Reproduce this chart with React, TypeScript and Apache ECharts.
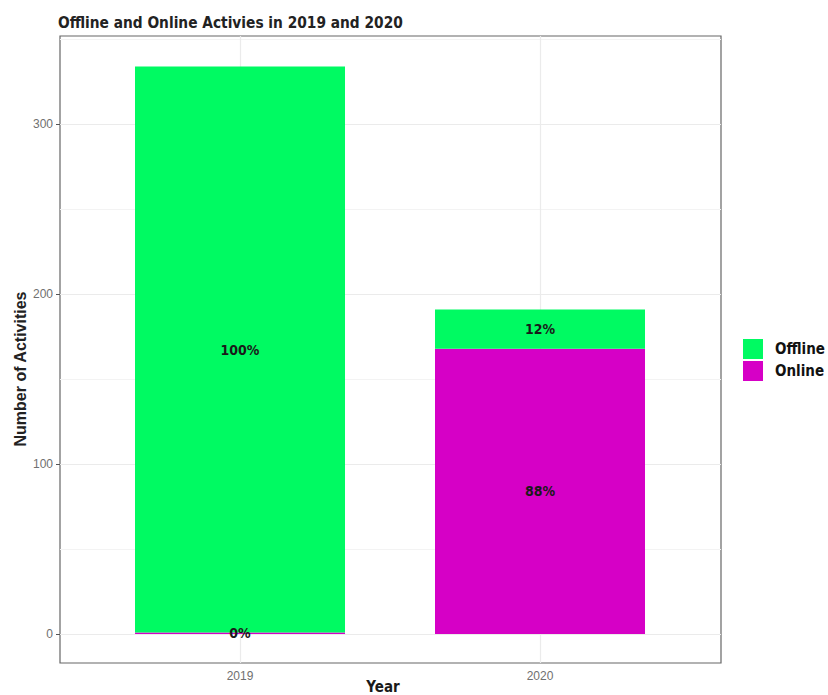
import React, { useEffect, useRef } from "react";
import * as echarts from "echarts";

const categories = ["2019", "2020"];
const onlineValues = [1, 168];
const offlineValues = [333, 23];
const yTickValues = [0, 100, 200, 300];
const yMinorValues = [50, 150, 250, 350];

const COND = "'DejaVu Sans Condensed', 'DejaVu Sans', sans-serif";
const SANS = "'Liberation Sans', Arial, sans-serif";

export default function App() {
  const ref = useRef<HTMLDivElement>(null);
  useEffect(() => {
    if (!ref.current) return;
    const chart = echarts.init(ref.current, undefined, { renderer: "svg" });
    const totals = onlineValues.map((v, i) => v + offlineValues[i]);
    const pct = (p: any) => Math.round((p.value / totals[p.dataIndex]) * 100) + "%";
    const labelStyle = {
      show: true,
      position: "inside",
      formatter: pct,
      fontFamily: COND,
      fontWeight: "bold",
      fontSize: 14,
      color: "#1a1a1a",
    };
    const yRange = { min: -17, max: 352 };
    chart.setOption({
      animation: false,
      backgroundColor: "#ffffff",
      grid: [
        {
          left: 60,
          top: 36,
          right: 107,
          bottom: 32,
          show: true,
          borderColor: "#666666",
          borderWidth: 1.2,
          backgroundColor: "transparent",
        },
        { left: 90, top: 36, right: 138, bottom: 32 },
      ],
      xAxis: [
        { type: "value", gridIndex: 0, min: 0, max: 1, show: false },
        {
          type: "category",
          gridIndex: 1,
          data: categories,
          axisLine: { show: false },
          splitLine: { show: false },
          axisTick: {
            show: true,
            alignWithLabel: true,
            length: 4,
            lineStyle: { color: "#555555" },
          },
          axisLabel: {
            color: "#707070",
            fontFamily: SANS,
            fontSize: 12,
            margin: 7,
          },
        },
      ],
      yAxis: [
        {
          type: "value",
          gridIndex: 0,
          ...yRange,
          axisLine: { show: false },
          splitLine: { show: false },
          axisTick: {
            show: true,
            customValues: yTickValues,
            length: 4,
            lineStyle: { color: "#555555" },
          },
          axisLabel: {
            customValues: yTickValues,
            color: "#707070",
            fontFamily: SANS,
            fontSize: 12,
            margin: 7,
          },
        },
        { type: "value", gridIndex: 1, ...yRange, show: false },
      ],
      legend: {
        data: ["Offline", "Online"],
        orient: "vertical",
        left: 743,
        top: 339,
        padding: 0,
        itemGap: 2,
        itemWidth: 20,
        itemHeight: 20,
        icon: "rect",
        textStyle: {
          fontFamily: COND,
          fontWeight: "bold",
          fontSize: 15,
          color: "#111111",
          padding: [0, 0, 0, 7],
        },
      },
      graphic: [
        {
          type: "text",
          left: 58,
          top: 15,
          style: {
            text: "Offline and Online Activies in 2019 and 2020",
            font: `bold 15.3px ${COND}`,
            fill: "#222222",
          },
        },
        {
          type: "text",
          x: 383,
          y: 679,
          style: {
            text: "Year",
            font: `bold 15px ${COND}`,
            fill: "#1a1a1a",
            textAlign: "center",
            textVerticalAlign: "top",
          },
        },
        {
          type: "text",
          x: 20,
          y: 369,
          rotation: Math.PI / 2,
          style: {
            text: "Number of Activities",
            font: `bold 16px ${SANS}`,
            fill: "#222222",
            textAlign: "center",
            textVerticalAlign: "middle",
          },
        },
      ],
      series: [
        {
          name: "hgrid",
          type: "line",
          xAxisIndex: 0,
          yAxisIndex: 0,
          data: [],
          markLine: {
            silent: true,
            z: 1,
            symbol: "none",
            label: { show: false },
            data: [
              ...yMinorValues.map((v) => ({ yAxis: v, lineStyle: { color: "#f3f3f3", width: 1, type: "solid" } })),
              ...yTickValues.map((v) => ({ yAxis: v, lineStyle: { color: "#ebebeb", width: 1.2, type: "solid" } })),
            ],
          },
        },
        {
          name: "vgrid",
          type: "line",
          xAxisIndex: 1,
          yAxisIndex: 1,
          data: [],
          markLine: {
            silent: true,
            z: 1,
            symbol: "none",
            label: { show: false },
            data: categories.map((c) => ({ xAxis: c, lineStyle: { color: "#ebebeb", width: 1.2, type: "solid" } })),
          },
        },
        {
          name: "Online",
          type: "bar",
          stack: "total",
          xAxisIndex: 1,
          yAxisIndex: 1,
          z: 3,
          barWidth: "70%",
          itemStyle: { color: "#D600C6" },
          label: labelStyle,
          data: onlineValues,
        },
        {
          name: "Offline",
          type: "bar",
          stack: "total",
          xAxisIndex: 1,
          yAxisIndex: 1,
          z: 3,
          barWidth: "70%",
          itemStyle: { color: "#00FA62" },
          label: labelStyle,
          data: offlineValues,
        },
      ],
    });
    return () => chart.dispose();
  }, []);
  return (
    <div
      ref={ref}
      style={{ position: "fixed", left: 0, top: 0, width: 828, height: 695 }}
    />
  );
}
